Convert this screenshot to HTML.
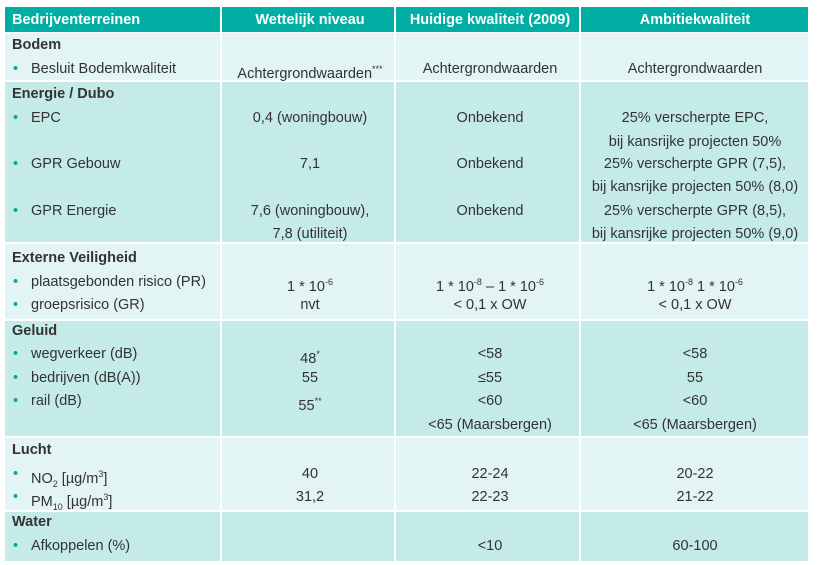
<!DOCTYPE html>
<html><head><meta charset="utf-8"><style>
body{margin:0;width:817px;height:565px;background:#fff;font-family:"Liberation Sans Narrow","Liberation Sans",sans-serif;color:#333;font-size:14.5px;position:relative;overflow:hidden}
.sec{position:absolute;left:5px;width:803px}
.c{position:absolute;top:0;bottom:0;border-right:2px solid #fff;box-sizing:border-box}
.t{position:absolute;white-space:nowrap;line-height:18px}
.h{font-weight:bold;color:#fff}
.b{font-weight:bold}
.ctr{transform:translateX(-50%)}
.dot{color:#00a99d;position:absolute;left:13px}
sup,sub{font-size:9px}
</style></head><body>
<div class="sec" style="top:7px;height:25px;background:#00aea3">
 <div class="c" style="left:0;width:217px"></div><div class="c" style="left:217px;width:174px"></div><div class="c" style="left:391px;width:185px"></div>
</div>
<div class="sec" style="top:33px;height:47px;background:#e2f4f3"><div class="c" style="left:0;width:217px"></div><div class="c" style="left:217px;width:174px"></div><div class="c" style="left:391px;width:185px"></div></div>
<div class="sec" style="top:82px;height:160px;background:#c4ebe8"><div class="c" style="left:0;width:217px"></div><div class="c" style="left:217px;width:174px"></div><div class="c" style="left:391px;width:185px"></div></div>
<div class="sec" style="top:244px;height:75px;background:#e2f4f3"><div class="c" style="left:0;width:217px"></div><div class="c" style="left:217px;width:174px"></div><div class="c" style="left:391px;width:185px"></div></div>
<div class="sec" style="top:321px;height:115px;background:#c4ebe8"><div class="c" style="left:0;width:217px"></div><div class="c" style="left:217px;width:174px"></div><div class="c" style="left:391px;width:185px"></div></div>
<div class="sec" style="top:438px;height:72px;background:#e2f4f3"><div class="c" style="left:0;width:217px"></div><div class="c" style="left:217px;width:174px"></div><div class="c" style="left:391px;width:185px"></div></div>
<div class="sec" style="top:512px;height:49px;background:#c4ebe8"><div class="c" style="left:0;width:217px"></div><div class="c" style="left:217px;width:174px"></div><div class="c" style="left:391px;width:185px"></div></div>

<div>
<div class="t h" style="left:12px;top:11px">Bedrijventerreinen</div>
<div class="t h ctr" style="left:310px;top:11px">Wettelijk niveau</div>
<div class="t h ctr" style="left:490px;top:11px">Huidige kwaliteit (2009)</div>
<div class="t h ctr" style="left:695px;top:11px">Ambitiekwaliteit</div>

<div class="t b" style="left:12px;top:36px">Bodem</div>
<div class="t" style="left:0;top:60px;width:220px"><span class="dot">•</span><span style="margin-left:31px">Besluit Bodemkwaliteit</span></div>
<div class="t ctr" style="left:310px;top:60px">Achtergrondwaarden<sup>***</sup></div>
<div class="t ctr" style="left:490px;top:60px">Achtergrondwaarden</div>
<div class="t ctr" style="left:695px;top:60px">Achtergrondwaarden</div>

<div class="t b" style="left:12px;top:85px">Energie / Dubo</div>
<div class="t" style="left:0;top:109px;width:220px"><span class="dot">•</span><span style="margin-left:31px">EPC</span></div>
<div class="t ctr" style="left:310px;top:109px">0,4 (woningbouw)</div>
<div class="t ctr" style="left:490px;top:109px">Onbekend</div>
<div class="t ctr" style="left:695px;top:109px">25% verscherpte EPC,</div>
<div class="t ctr" style="left:695px;top:133px">bij kansrijke projecten 50%</div>
<div class="t" style="left:0;top:155px;width:220px"><span class="dot">•</span><span style="margin-left:31px">GPR Gebouw</span></div>
<div class="t ctr" style="left:310px;top:155px">7,1</div>
<div class="t ctr" style="left:490px;top:155px">Onbekend</div>
<div class="t ctr" style="left:695px;top:155px">25% verscherpte GPR (7,5),</div>
<div class="t ctr" style="left:695px;top:178px">bij kansrijke projecten 50% (8,0)</div>
<div class="t" style="left:0;top:202px;width:220px"><span class="dot">•</span><span style="margin-left:31px">GPR Energie</span></div>
<div class="t ctr" style="left:310px;top:202px">7,6 (woningbouw),</div>
<div class="t ctr" style="left:310px;top:225px">7,8 (utiliteit)</div>
<div class="t ctr" style="left:490px;top:202px">Onbekend</div>
<div class="t ctr" style="left:695px;top:202px">25% verscherpte GPR (8,5),</div>
<div class="t ctr" style="left:695px;top:225px">bij kansrijke projecten 50% (9,0)</div>

<div class="t b" style="left:12px;top:249px">Externe Veiligheid</div>
<div class="t" style="left:0;top:273px;width:220px"><span class="dot">•</span><span style="margin-left:31px">plaatsgebonden risico (PR)</span></div>
<div class="t ctr" style="left:310px;top:273px">1 * 10<sup>-6</sup></div>
<div class="t ctr" style="left:490px;top:273px">1 * 10<sup>-8</sup> – 1 * 10<sup>-6</sup></div>
<div class="t ctr" style="left:695px;top:273px">1 * 10<sup>-8</sup> 1 * 10<sup>-6</sup></div>
<div class="t" style="left:0;top:296px;width:220px"><span class="dot">•</span><span style="margin-left:31px">groepsrisico (GR)</span></div>
<div class="t ctr" style="left:310px;top:296px">nvt</div>
<div class="t ctr" style="left:490px;top:296px">&lt; 0,1 x OW</div>
<div class="t ctr" style="left:695px;top:296px">&lt; 0,1 x OW</div>

<div class="t b" style="left:12px;top:322px">Geluid</div>
<div class="t" style="left:0;top:345px;width:220px"><span class="dot">•</span><span style="margin-left:31px">wegverkeer (dB)</span></div>
<div class="t ctr" style="left:310px;top:345px">48<sup>*</sup></div>
<div class="t ctr" style="left:490px;top:345px">&lt;58</div>
<div class="t ctr" style="left:695px;top:345px">&lt;58</div>
<div class="t" style="left:0;top:369px;width:220px"><span class="dot">•</span><span style="margin-left:31px">bedrijven (dB(A))</span></div>
<div class="t ctr" style="left:310px;top:369px">55</div>
<div class="t ctr" style="left:490px;top:369px">≤55</div>
<div class="t ctr" style="left:695px;top:369px">55</div>
<div class="t" style="left:0;top:392px;width:220px"><span class="dot">•</span><span style="margin-left:31px">rail (dB)</span></div>
<div class="t ctr" style="left:310px;top:392px">55<sup>**</sup></div>
<div class="t ctr" style="left:490px;top:392px">&lt;60</div>
<div class="t ctr" style="left:695px;top:392px">&lt;60</div>
<div class="t ctr" style="left:490px;top:416px">&lt;65 (Maarsbergen)</div>
<div class="t ctr" style="left:695px;top:416px">&lt;65 (Maarsbergen)</div>

<div class="t b" style="left:12px;top:441px">Lucht</div>
<div class="t" style="left:0;top:465px;width:220px"><span class="dot">•</span><span style="margin-left:31px">NO<sub>2</sub> [µg/m<sup>3</sup>]</span></div>
<div class="t ctr" style="left:310px;top:465px">40</div>
<div class="t ctr" style="left:490px;top:465px">22-24</div>
<div class="t ctr" style="left:695px;top:465px">20-22</div>
<div class="t" style="left:0;top:488px;width:220px"><span class="dot">•</span><span style="margin-left:31px">PM<sub>10</sub> [µg/m<sup>3</sup>]</span></div>
<div class="t ctr" style="left:310px;top:488px">31,2</div>
<div class="t ctr" style="left:490px;top:488px">22-23</div>
<div class="t ctr" style="left:695px;top:488px">21-22</div>

<div class="t b" style="left:12px;top:513px">Water</div>
<div class="t" style="left:0;top:537px;width:220px"><span class="dot">•</span><span style="margin-left:31px">Afkoppelen (%)</span></div>
<div class="t ctr" style="left:490px;top:537px">&lt;10</div>
<div class="t ctr" style="left:695px;top:537px">60-100</div>
</div>
</body></html>
